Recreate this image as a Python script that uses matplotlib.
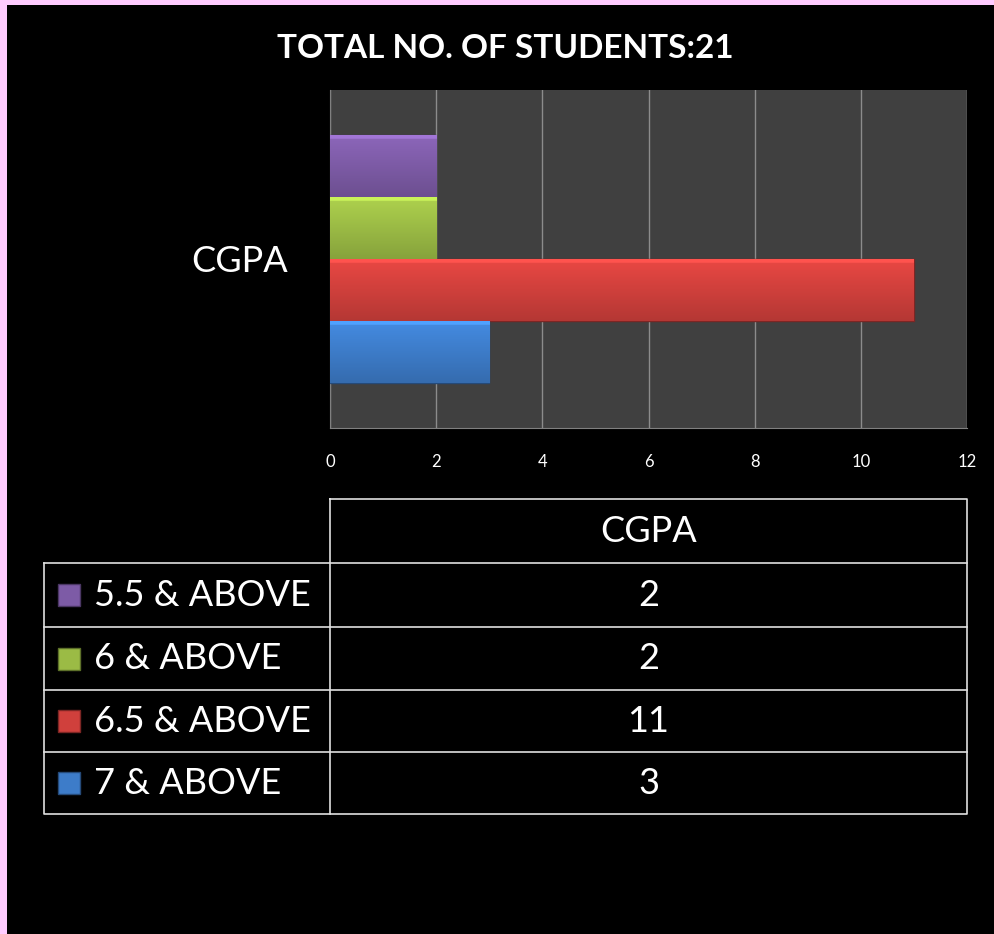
import numpy as np
import matplotlib
matplotlib.use('Agg')
import matplotlib.pyplot as plt
from matplotlib.colors import to_rgb
from matplotlib.patches import Rectangle

# data
title = 'TOTAL NO. OF STUDENTS:21'
category = 'CGPA'
groups = ['5.5 & ABOVE', '6 & ABOVE', '6.5 & ABOVE', '7 & ABOVE']
counts = [2, 2, 11, 3]
colors = ['#7d5ba6', '#9bbb45', '#d0403c', '#3d7cc9']
xticks = [0, 2, 4, 6, 8, 10, 12]

plt.rcParams['font.family'] = ['Lato', 'DejaVu Sans']

W, H = 994, 934
fig = plt.figure(figsize=(W / 100, H / 100), dpi=100, facecolor='black')

# overlay axes in pixel coordinates for frame + table
ov = fig.add_axes([0, 0, 1, 1], zorder=0)
ov.set_xlim(0, W)
ov.set_ylim(H, 0)
ov.axis('off')
ov.add_patch(Rectangle((0, 0), 7, H, color='#ffccff', lw=0))
ov.add_patch(Rectangle((0, 0), W, 5, color='#ffccff', lw=0))

fig.text(505 / W, 1 - 48 / H, title, color='white', fontsize=24, fontweight='bold',
         ha='center', va='center')

# bar chart
x0, x1, y0, y1 = 330, 967, 90, 428
ax = fig.add_axes([x0 / W, 1 - y1 / H, (x1 - x0) / W, (y1 - y0) / H], zorder=1)
ax.set_facecolor('#404040')
bh = 0.1834
offsets = [1.5 * bh, 0.5 * bh, -0.5 * bh, -1.5 * bh]
for v, off, c in zip(counts, offsets, colors):
    bar = ax.barh(off, v, height=bh, color=c, edgecolor=tuple(np.array(to_rgb(c)) * 0.6),
                  lw=1, zorder=3)[0]
    # bevel-like shading
    base = np.array(to_rgb(c))
    t = np.linspace(0, 1, 50)[:, None]
    shade = np.clip(base * (1.12 - 0.25 * t), 0, 1)
    shade[:3] = np.clip(base * 1.3, 0, 1)
    img = np.repeat(shade[:, None, :], 2, axis=1)
    im = ax.imshow(img, extent=[0, v, off - bh / 2, off + bh / 2], origin='upper',
                   aspect='auto', zorder=3.5)
    im.set_clip_path(bar)

ax.set_xlim(0, 12)
ax.set_ylim(-0.5, 0.5)
ax.set_xticks(xticks)
ax.set_yticks([0])
ax.set_yticklabels([category])
ax.grid(axis='x', color='#8c8c8c', lw=1, zorder=1)
ax.tick_params(axis='x', colors='white', labelsize=12, length=0, pad=19)
ax.tick_params(axis='y', colors='white', labelsize=26, length=0, pad=30)
for s in ['top', 'right']:
    ax.spines[s].set_visible(False)
for s in ['left', 'bottom']:
    ax.spines[s].set_color('#808080')

# data table
tl, tm, tr = 44, 330, 967
rows = [499, 563, 627, 690, 752, 814]
lc = '#e0e0e0'
ov.plot([tm, tr, tr, tm, tm], [rows[0], rows[0], rows[-1], rows[-1], rows[0]], color=lc, lw=1.2)
ov.plot([tl, tl, tm], [rows[1], rows[-1], rows[-1]], color=lc, lw=1.2)
for r in rows[1:-1]:
    ov.plot([tl, tr], [r, r], color=lc, lw=1.2)
ov.text((tm + tr) / 2, (rows[0] + rows[1]) / 2, category, color='white', fontsize=26,
        ha='center', va='center')
for i, (g, v, c) in enumerate(zip(groups, counts, colors)):
    yc = (rows[i + 1] + rows[i + 2]) / 2
    ov.add_patch(Rectangle((58, yc - 11), 22, 22, facecolor=c,
                           edgecolor=tuple(np.array(to_rgb(c)) * 0.6), lw=1))
    ov.text(94, yc, g, color='white', fontsize=26, ha='left', va='center')
    ov.text((tm + tr) / 2, yc, str(v), color='white', fontsize=26, ha='center', va='center')

fig.savefig('out.png', dpi=100, facecolor='black')
